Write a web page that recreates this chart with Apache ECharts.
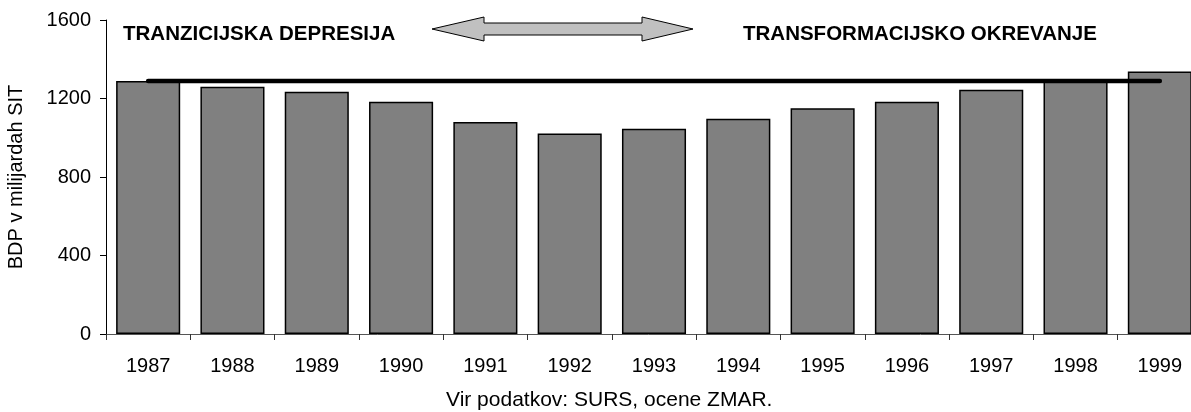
<!DOCTYPE html>
<html>
<head>
<meta charset="utf-8">
<script src="https://cdn.jsdelivr.net/npm/echarts@6/dist/echarts.min.js"></script>
<style>
  html, body { margin: 0; padding: 0; background: #fff; }
  #chart { width: 1191px; height: 412px; }
</style>
</head>
<body>
<div id="chart"></div>
<script>
const years = ['1987', '1988', '1989', '1990', '1991', '1992', '1993', '1994', '1995', '1996', '1997', '1998', '1999']
const gdp = [1289, 1260, 1235, 1184, 1080, 1022, 1046, 1097, 1150, 1184, 1245, 1290, 1337]
// raven 1987, ki se vleče čez celo obdobje
const level1987 = [1289, 1289, 1289, 1289, 1289, 1289, 1289, 1289, 1289, 1289, 1289, 1289, 1289]
const yTicks = [0, 400, 800, 1200, 1600]

const font = '"Liberation Sans", Arial, sans-serif'
const chart = echarts.init(document.getElementById('chart'), null, { renderer: 'canvas' })

chart.setOption({
  animation: false,
  // zadnji stolpec je na izvirniku odrezan ob desnem robu
  grid: { left: 106, right: -11, top: 20, bottom: 78, containLabel: false, outerBoundsMode: 'none' },
  xAxis: {
    type: 'category',
    data: years,
    axisLine: { lineStyle: { color: '#555', width: 1 } },
    axisTick: { show: true, length: 6, alignWithLabel: false, lineStyle: { color: '#333' } },
    axisLabel: { color: '#000', fontSize: 20, fontFamily: font, margin: 22 },
  },
  yAxis: {
    type: 'value',
    min: yTicks[0],
    max: yTicks[yTicks.length - 1],
    interval: 400,
    name: 'BDP v milijardah SIT',
    nameLocation: 'middle',
    nameGap: 80,
    nameTextStyle: { color: '#000', fontSize: 20, fontFamily: font },
    axisLine: { show: true, lineStyle: { color: '#000', width: 1 } },
    axisTick: { show: true, length: 6, lineStyle: { color: '#000' } },
    axisLabel: { color: '#000', fontSize: 20, fontFamily: font, margin: 15, formatter: (v) => String(v) },
    splitLine: { show: false },
  },
  series: [
    {
      type: 'bar',
      data: gdp,
      barCategoryGap: '24%',
      itemStyle: { color: '#808080', borderColor: '#000', borderWidth: 1.5 },
    },
    {
      type: 'line',
      data: level1987,
      showSymbol: false,
      lineStyle: { color: '#000', width: 4.5, cap: 'round' },
      z: 5,
    },
  ],
  graphic: [
    {
      type: 'polygon',
      shape: {
        points: [[432, 29], [484, 17], [484, 23], [642, 23], [642, 17], [693, 29], [642, 41], [642, 35], [484, 35], [484, 41]],
      },
      style: { fill: '#c0c0c0', stroke: '#000', lineWidth: 1 },
    },
    {
      type: 'text',
      left: 123,
      top: 24,
      style: { text: 'TRANZICIJSKA DEPRESIJA', fill: '#000', font: 'bold 20.5px ' + font },
    },
    {
      type: 'text',
      left: 743,
      top: 24,
      style: { text: 'TRANSFORMACIJSKO OKREVANJE', fill: '#000', font: 'bold 20.5px ' + font },
    },
    {
      type: 'text',
      left: 446,
      top: 390,
      style: { text: 'Vir podatkov: SURS, ocene ZMAR.', fill: '#000', font: '21px ' + font },
    },
  ],
})
</script>
</body>
</html>
